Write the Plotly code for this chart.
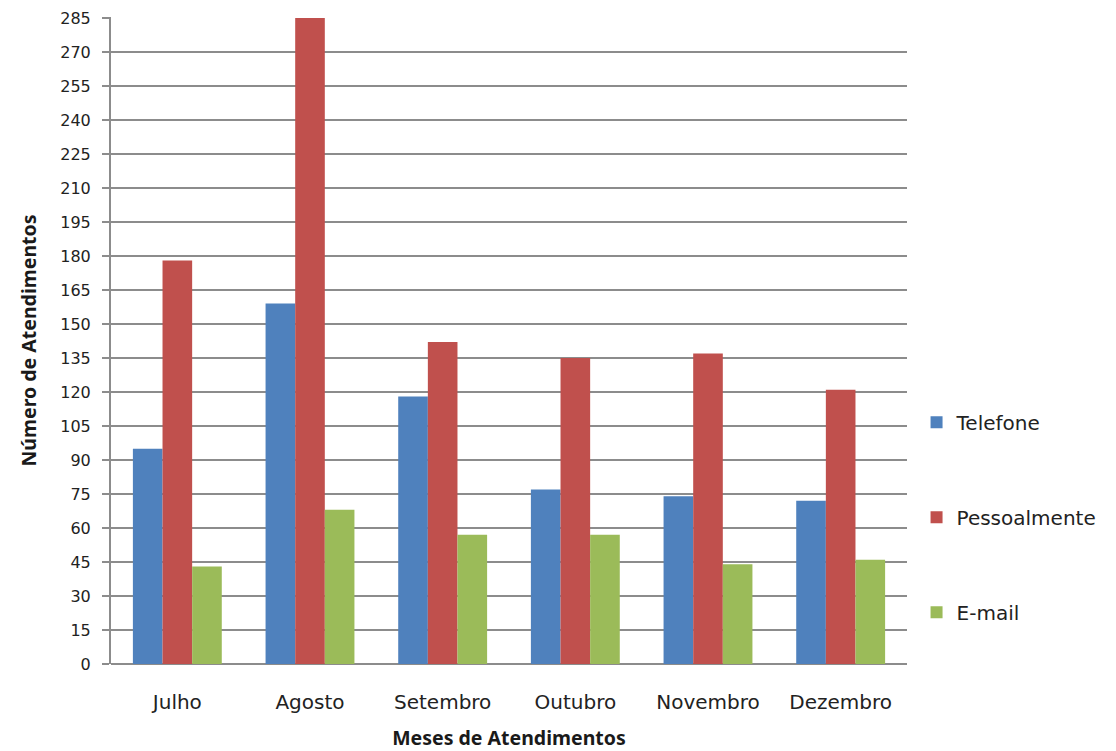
import plotly.graph_objects as go

meses = ["Julho", "Agosto", "Setembro", "Outubro", "Novembro", "Dezembro"]
telefone = [95, 159, 118, 77, 74, 72]
pessoalmente = [178, 285, 142, 135, 137, 121]
email = [43, 68, 57, 57, 44, 46]
y_ticks = list(range(0, 286, 15))

series = [
    ("Telefone", telefone, "#4F81BD"),
    ("Pessoalmente", pessoalmente, "#C0504D"),
    ("E-mail", email, "#9BBB59"),
]

fig = go.Figure()
for i, (name, vals, color) in enumerate(series):
    fig.add_trace(go.Bar(x=meses, y=vals, name=name, marker_color=color,
                         marker_line_width=0, legendgroup=f"g{i}"))

title_font = dict(family="Noto Sans, DejaVu Sans, sans-serif", size=19.5, color="#1a1a1a")

fig.update_layout(
    width=1116, height=751,
    margin=dict(l=103, r=217, t=9, b=95, autoexpand=False),
    paper_bgcolor="white", plot_bgcolor="white",
    barmode="group", bargap=0.33, bargroupgap=0,
    font=dict(family="DejaVu Sans, sans-serif", size=16, color="#222"),
    legend=dict(x=1.012, y=0.227, xanchor="left", yanchor="middle",
                tracegroupgap=66, font=dict(size=20, color="#222"),
                itemwidth=30),
    showlegend=True,
)
fig.update_xaxes(
    showgrid=False, showline=False, ticks="", automargin=False,
    tickfont=dict(size=20), ticklabelstandoff=24,
    title=dict(text="<b>Meses de Atendimentos</b>", standoff=18, font=title_font),
)
fig.update_yaxes(
    range=[0, 285.4], tickvals=y_ticks, showgrid=True, gridcolor="#8c8c8c", gridwidth=2,
    showline=True, linecolor="#8c8c8c", linewidth=2, ticks="outside", ticklen=7,
    tickcolor="#8c8c8c", tickwidth=2, zeroline=True, zerolinecolor="#8c8c8c", zerolinewidth=2,
    tickfont=dict(size=16), ticklabelstandoff=8, automargin=False,
    ticklabeloverflow="allow",
    title=dict(text="<b>Número de Atendimentos</b>", standoff=18, font=title_font),
)

fig.write_html("out.html")
